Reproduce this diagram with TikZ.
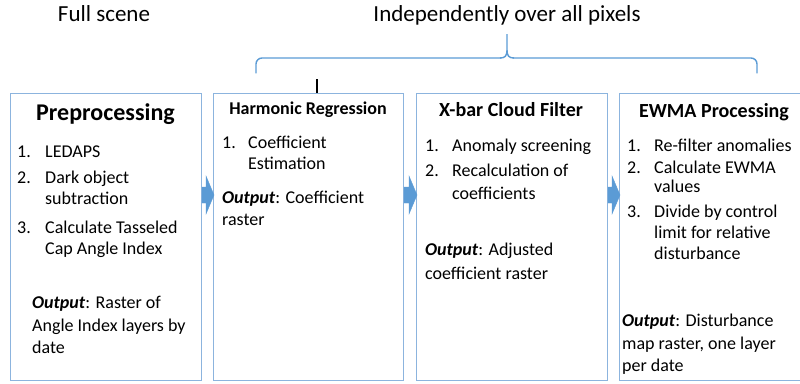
\documentclass[tikz,border=0pt]{standalone}
\usepackage{fontspec}
\setmainfont{Carlito}
\usetikzlibrary{calc}
\definecolor{boxline}{RGB}{140,180,222}
\definecolor{flowblue}{RGB}{91,155,213}
\tikzset{
  stage/.style={draw=boxline, line width=1pt, fill=white, inner sep=0pt},
  body/.style={anchor=base west, inner sep=0pt, font=\fontsize{18}{21}\selectfont},
  head/.style={anchor=base, inner sep=0pt, font=\fontsize{23}{27}\selectfont},
  flowarrow/.style={fill=flowblue, draw=flowblue, line width=0.4pt, line join=miter},
  bracket/.style={draw=flowblue, line width=1.4pt, line cap=round, rounded corners=6pt}
}
\newcommand{\outlbl}{\textbf{\textit{Output}}}
\begin{document}
\begin{tikzpicture}[x=1pt, y=-1pt]
\useasboundingbox (0,0) rectangle (800,383);

% stage boxes
\node[stage, minimum width=191pt, minimum height=287pt, anchor=north west] (b1) at (10,93) {};
\node[stage, minimum width=190pt, minimum height=287pt, anchor=north west] (b2) at (213,93) {};
\node[stage, minimum width=191pt, minimum height=287pt, anchor=north west] (b3) at (416,93) {};
\node[stage, minimum width=184pt, minimum height=287pt, anchor=north west] (b4) at (619,93) {};

% block arrows between stages
\foreach \a/\b in {b1/b2, b2/b3, b3/b4}{
  \coordinate (s) at (\a.east |- 0,195);
  \coordinate (t) at (\b.west |- 0,195);
  \path[flowarrow] (s) ++(0,-8) -- ($(t)+(-7,-8)$) -- ($(t)+(-7,-19)$) -- ($(t)+(1,0)$)
     -- ($(t)+(-7,19)$) -- ($(t)+(-7,8)$) -- ($(s)+(0,8)$) -- cycle;
}

% headings
\node[head] (hfull) at (104,21) {Full scene};
\node[head] (hind) at (507,21) {Independently over all pixels};

% brace spanning the per-pixel stages
\coordinate (brL) at (256,73);
\coordinate (brR) at (757,73);
\coordinate (brT) at (507,34);
\draw[bracket] (brL) -- (256,58) -- (501,58);
\draw[flowblue, line width=1.4pt] (500,58) .. controls (505,58) and (507,56) .. (507,50) -- (brT)
   -- (507,50) .. controls (507,56) and (509,58) .. (514,58);
\draw[bracket] (513,58) -- (757,58) -- (brR);

% short black tick on the harmonic regression box
\coordinate (tick) at (317,79);
\draw[black, line width=1.5pt] (tick) -- (tick |- b2.north);

% Preprocessing
\node[anchor=base, inner sep=0pt, font=\bfseries\fontsize{24}{28}\selectfont] (t1) at (105.5,120) {Preprocessing};
\node[body] (p1n) at (17,157) {1.};
\node[body] (p1) at (45,157) {LEDAPS};
\node[body] (p2n) at (17,183) {2.};
\node[body] (p2) at (45,183) {Dark object};
\node[body] (p2b) at (45,204) {subtraction};
\node[body] (p3n) at (17,233) {3.};
\node[body] (p3) at (45,233) {Calculate Tasseled};
\node[body] (p3b) at (45,254) {Cap Angle Index};
\node[body] (po1) at (32,308) {\outlbl: Raster of};
\node[body] (po2) at (32,331) {Angle Index layers by};
\node[body] (po3) at (32,353) {date};

% Harmonic Regression
\node[anchor=base, inner sep=0pt, font=\bfseries\fontsize{18}{21}\selectfont] (t2) at (308,114) {Harmonic Regression};
\node[body] (h1n) at (222,148) {1.};
\node[body] (h1) at (248,148) {Coefficient};
\node[body] (h1b) at (248,169) {Estimation};
\node[body] (ho1) at (222,203) {\outlbl: Coefficient};
\node[body] (ho2) at (222,225) {raster};

% X-bar Cloud Filter
\node[anchor=base, inner sep=0pt, font=\bfseries\fontsize{20}{24}\selectfont] (t3) at (511,116) {X-bar Cloud Filter};
\node[body] (x1n) at (425,151) {1.};
\node[body] (x1) at (452,151) {Anomaly screening};
\node[body] (x2n) at (425,176) {2.};
\node[body] (x2) at (452,176) {Recalculation of};
\node[body] (x2b) at (452,199) {coefficients};
\node[body] (xo1) at (425,255) {\outlbl: Adjusted};
\node[body] (xo2) at (425,279) {coefficient raster};

% EWMA Processing
\node[anchor=base, inner sep=0pt, font=\bfseries\fontsize{20}{24}\selectfont] (t4) at (714,117) {EWMA Processing};
\node[body] (e1n) at (627,151) {1.};
\node[body] (e1) at (654,151) {Re-filter anomalies};
\node[body] (e2n) at (627,173) {2.};
\node[body] (e2) at (654,173) {Calculate EWMA};
\node[body] (e2b) at (654,192) {values};
\node[body] (e3n) at (627,217) {3.};
\node[body] (e3) at (654,217) {Divide by control};
\node[body] (e3b) at (654,238) {limit for relative};
\node[body] (e3c) at (654,259) {disturbance};
\node[body] (eo1) at (622,326) {\outlbl: Disturbance};
\node[body] (eo2) at (622,349) {map raster, one layer};
\node[body] (eo3) at (622,371) {per date};
\end{tikzpicture}
\end{document}
